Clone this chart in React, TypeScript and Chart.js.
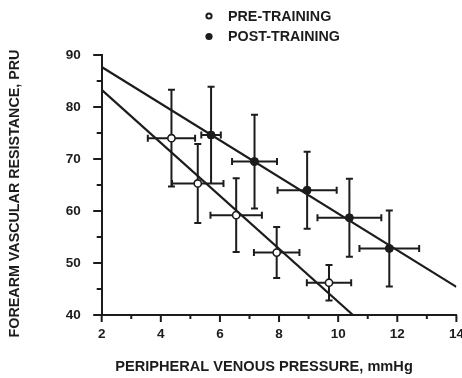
import React, { useEffect, useRef } from "react";
import { Chart, registerables } from "chart.js";

Chart.register(...registerables);

// Group means (x = venous pressure, y = vascular resistance) with SEM in both directions
const preX = [4.36, 5.25, 6.55, 7.92, 9.69];
const preY = [74.0, 65.3, 59.2, 52.0, 46.2];
const preXErr = [0.8, 0.87, 0.87, 0.77, 0.75];
const preYErr = [9.3, 7.6, 7.1, 4.9, 3.4];

const postX = [5.7, 7.17, 8.95, 10.38, 11.73];
const postY = [74.6, 69.5, 64.0, 58.7, 52.8];
const postXErr = [0.33, 0.76, 1.0, 1.08, 1.01];
const postYErr = [9.3, 9.0, 7.4, 7.5, 7.3];

// Regression line end points
const preFitX = [2, 10.5];
const preFitY = [83.3, 40];
const postFitX = [2, 14];
const postFitY = [87.7, 45.4];

const seriesNames = ["PRE-TRAINING", "POST-TRAINING"];
const xTitle = "PERIPHERAL VENOUS PRESSURE, mmHg";
const yTitle = "FOREARM VASCULAR RESISTANCE, PRU";

const FONT = '"Liberation Sans", Arial, Helvetica, sans-serif';
const INK = "#1c1c1c";

const toPoints = (xs: number[], ys: number[]) => xs.map((x, i) => ({ x, y: ys[i] }));

export default function App() {
  const ref = useRef<HTMLCanvasElement>(null);

  useEffect(() => {
    const canvas = ref.current;
    if (!canvas) return;

    const errorBars = {
      id: "errorBars",
      beforeDatasetsDraw(chart: any) {
        const { ctx, scales } = chart;
        const sx = scales.x;
        const sy = scales.y;
        const groups = [
          [preX, preY, preXErr, preYErr],
          [postX, postY, postXErr, postYErr],
        ];
        const cap = 3.5;
        ctx.save();
        ctx.strokeStyle = INK;
        ctx.lineWidth = 2;
        ctx.beginPath();
        for (const [xs, ys, xe, ye] of groups) {
          xs.forEach((xv: number, i: number) => {
            const px = sx.getPixelForValue(xv);
            const py = sy.getPixelForValue(ys[i]);
            const top = sy.getPixelForValue(ys[i] + ye[i]);
            const bot = sy.getPixelForValue(ys[i] - ye[i]);
            const lft = sx.getPixelForValue(xv - xe[i]);
            const rgt = sx.getPixelForValue(xv + xe[i]);
            ctx.moveTo(px, top);
            ctx.lineTo(px, bot);
            ctx.moveTo(px - cap, top);
            ctx.lineTo(px + cap, top);
            ctx.moveTo(px - cap, bot);
            ctx.lineTo(px + cap, bot);
            ctx.moveTo(lft, py);
            ctx.lineTo(rgt, py);
            ctx.moveTo(lft, py - cap);
            ctx.lineTo(lft, py + cap);
            ctx.moveTo(rgt, py - cap);
            ctx.lineTo(rgt, py + cap);
          });
        }
        ctx.stroke();
        ctx.restore();
      },
    };

    const decor = {
      id: "decor",
      afterDraw(chart: any) {
        const { ctx, scales, chartArea } = chart;
        const sx = scales.x;
        const sy = scales.y;
        ctx.save();
        ctx.strokeStyle = INK;
        ctx.fillStyle = INK;
        ctx.lineWidth = 2;

        // tick marks: majors at labelled values, minors half way between
        ctx.beginPath();
        const yTicks = sy.ticks.map((t: any) => t.value);
        yTicks.forEach((v: number, i: number) => {
          const p = sy.getPixelForValue(v);
          ctx.moveTo(chartArea.left - 8.5, p);
          ctx.lineTo(chartArea.left, p);
          if (i < yTicks.length - 1) {
            const m = sy.getPixelForValue((v + yTicks[i + 1]) / 2);
            ctx.moveTo(chartArea.left - 5, m);
            ctx.lineTo(chartArea.left, m);
          }
        });
        const xTicks = sx.ticks.map((t: any) => t.value);
        xTicks.forEach((v: number, i: number) => {
          const p = sx.getPixelForValue(v);
          ctx.moveTo(p, chartArea.bottom);
          ctx.lineTo(p, chartArea.bottom + 7);
          if (i < xTicks.length - 1) {
            const m = sx.getPixelForValue((v + xTicks[i + 1]) / 2);
            ctx.moveTo(m, chartArea.bottom);
            ctx.lineTo(m, chartArea.bottom + 4);
          }
        });
        ctx.stroke();

        // axis titles
        ctx.textAlign = "center";
        ctx.textBaseline = "middle";
        ctx.font = `bold 14.6px ${FONT}`;
        ctx.fillText(xTitle, 264, 367);
        ctx.save();
        ctx.translate(15, 193.5);
        ctx.rotate(-Math.PI / 2);
        ctx.font = `bold 14.3px ${FONT}`;
        ctx.fillText(yTitle, 0, 0);
        ctx.restore();

        // legend
        ctx.textAlign = "left";
        ctx.font = `bold 14.3px ${FONT}`;
        ctx.fillText(seriesNames[0], 228, 17);
        ctx.fillText(seriesNames[1], 228, 37);
        ctx.lineWidth = 2;
        ctx.beginPath();
        ctx.arc(209, 16, 2.6, 0, Math.PI * 2);
        ctx.fillStyle = "#fff";
        ctx.fill();
        ctx.stroke();
        ctx.beginPath();
        ctx.arc(209, 36.5, 3.6, 0, Math.PI * 2);
        ctx.fillStyle = INK;
        ctx.fill();
        ctx.restore();
      },
    };

    const chart = new Chart(canvas, {
      type: "scatter",
      data: {
        datasets: [
          {
            label: "pre fit",
            data: toPoints(preFitX, preFitY),
            showLine: true,
            borderColor: INK,
            borderWidth: 2.2,
            pointRadius: 0,
          },
          {
            label: "post fit",
            data: toPoints(postFitX, postFitY),
            showLine: true,
            borderColor: INK,
            borderWidth: 2.2,
            pointRadius: 0,
          },
          {
            label: seriesNames[0],
            data: toPoints(preX, preY),
            pointRadius: 3.6,
            pointBackgroundColor: "#fff",
            pointBorderColor: INK,
            pointBorderWidth: 1.6,
          },
          {
            label: seriesNames[1],
            data: toPoints(postX, postY),
            pointRadius: 4,
            pointBackgroundColor: INK,
            pointBorderColor: INK,
            pointBorderWidth: 1,
          },
        ],
      },
      options: {
        responsive: false,
        animation: false,
        events: [],
        layout: { padding: { left: 0, top: 55, right: 5.3, bottom: 0 } },
        plugins: { legend: { display: false }, tooltip: { enabled: false } },
        scales: {
          x: {
            type: "linear",
            min: 2,
            max: 14,
            ticks: {
              stepSize: 2,
              padding: 11,
              color: INK,
              font: { family: FONT, size: 13.5, weight: "bold" },
            },
            grid: { display: false, drawTicks: false },
            border: { color: INK, width: 2 },
            afterFit(scale: any) {
              scale.height = 63;
              scale.paddingLeft = 0;
              scale.paddingRight = 0;
            },
          },
          y: {
            type: "linear",
            min: 40,
            max: 90,
            ticks: {
              stepSize: 10,
              padding: 21,
              color: INK,
              font: { family: FONT, size: 13.5, weight: "bold" },
            },
            grid: { display: false, drawTicks: false },
            border: { color: INK, width: 2 },
            afterFit(scale: any) {
              scale.width = 101.7;
              scale.paddingTop = 0;
              scale.paddingBottom = 0;
            },
          },
        },
      },
      plugins: [errorBars, decor],
    } as any);

    return () => chart.destroy();
  }, []);

  return (
    <div
      style={{
        position: "fixed",
        left: 0,
        top: 0,
        width: 462,
        height: 378,
        background: "#fff",
        overflow: "hidden",
      }}
    >
      <canvas ref={ref} width={462} height={378} style={{ display: "block" }} />
    </div>
  );
}
